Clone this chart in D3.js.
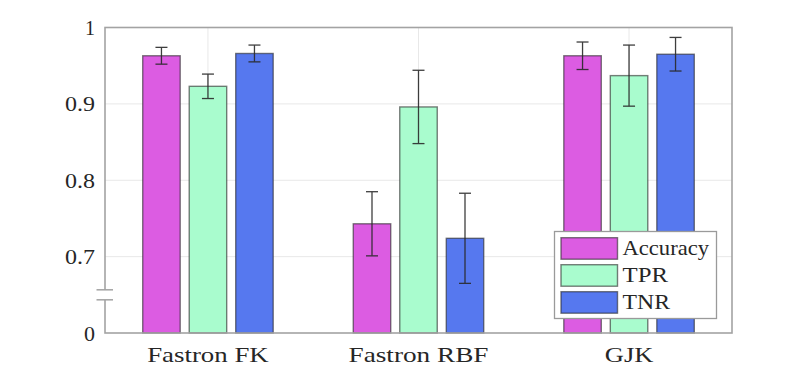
<!DOCTYPE html>
<html>
<head>
<meta charset="utf-8">
<script src="https://cdn.jsdelivr.net/npm/d3@7"></script>
<style>
  html, body { margin: 0; padding: 0; background: #fff; }
  svg { display: block; }
</style>
</head>
<body>
<svg id="chart" width="810" height="375"></svg>
<script>
// ---- data ----
const categories = ["Fastron FK", "Fastron RBF", "GJK"];
const seriesNames = ["Accuracy", "TPR", "TNR"];
const accuracy    = [0.963, 0.743, 0.963];
const accuracyErr = [0.011, 0.042, 0.018];
const tpr         = [0.923, 0.896, 0.937];
const tprErr      = [0.016, 0.048, 0.040];
const tnr         = [0.966, 0.724, 0.965];
const tnrErr      = [0.011, 0.059, 0.022];
const yTickValues = [0.6, 0.7, 0.8, 0.9, 1.0];
const yTickLabels = ["0", "0.7", "0.8", "0.9", "1"];

const values = [accuracy, tpr, tnr];
const errors = [accuracyErr, tprErr, tnrErr];
const colors = ["#dc5ce2", "#a9fcce", "#5678ef"];

// pick an installed serif font
function pickFont(cands) {
  const c = document.createElement("canvas").getContext("2d");
  const s = "Fastron RBF Accuracy 0.9 mwiWMl";
  const base = {};
  ["monospace", "sans-serif"].forEach(b => { c.font = "40px " + b; base[b] = c.measureText(s).width; });
  for (const f of cands) {
    for (const b of ["monospace", "sans-serif"]) {
      c.font = `40px "${f}", ${b}`;
      if (Math.abs(c.measureText(s).width - base[b]) > 0.5) return `"${f}"`;
    }
  }
  return "serif";
}
const FONT = pickFont(["Liberation Serif", "DejaVu Serif", "Noto Serif", "Tinos", "Times New Roman", "Times", "FreeSerif", "Nimbus Roman", "Nimbus Roman No9 L", "Latin Modern Roman", "CMU Serif", "Georgia"]) + ", serif";

// ---- layout ----
const L = 105, R = 732, T = 27.5, B = 333;
const svg = d3.select("#chart");

const x = d3.scalePoint().domain(categories).range([L, R]).padding(0.489);
const xs = d3.scaleBand().domain(seriesNames).range([-69.75, 69.75])
  .paddingInner(0.194).paddingOuter(0.097);
const y = d3.scaleLinear().domain([0.6, 1.0]).range([B, T]);

// grid
const grid = svg.append("g");
grid.selectAll("line.h").data(yTickValues.filter(v => v > 0.6 && v < 1))
  .join("line")
  .attr("x1", L).attr("x2", R)
  .attr("y1", d => y(d)).attr("y2", d => y(d))
  .attr("stroke", "#e8e8e8").attr("stroke-width", 1);
grid.selectAll("line.v").data(categories)
  .join("line")
  .attr("x1", d => x(d)).attr("x2", d => x(d))
  .attr("y1", T).attr("y2", B)
  .attr("stroke", "#e8e8e8").attr("stroke-width", 1);

// bars
seriesNames.forEach((s, si) => {
  const g = svg.append("g");
  g.selectAll("rect").data(categories)
    .join("rect")
    .attr("x", (d) => x(d) + xs(s))
    .attr("y", (d, i) => y(values[si][i]))
    .attr("width", xs.bandwidth())
    .attr("height", (d, i) => B - y(values[si][i]))
    .attr("fill", colors[si])
    .attr("stroke", "rgba(40,40,40,0.6)")
    .attr("stroke-width", 1.4);
});

// error bars
seriesNames.forEach((s, si) => {
  const g = svg.append("g").attr("stroke", "#2a2a2a").attr("stroke-width", 1.3).attr("opacity", 0.9);
  categories.forEach((c, i) => {
    const cx = x(c) + xs(s) + xs.bandwidth() / 2;
    const v = values[si][i], e = errors[si][i];
    g.append("line").attr("x1", cx).attr("x2", cx).attr("y1", y(v + e)).attr("y2", y(v - e));
    g.append("line").attr("x1", cx - 6).attr("x2", cx + 6).attr("y1", y(v + e)).attr("y2", y(v + e));
    g.append("line").attr("x1", cx - 6).attr("x2", cx + 6).attr("y1", y(v - e)).attr("y2", y(v - e));
  });
});

// frame
svg.append("rect").attr("x", L).attr("y", T).attr("width", R - L).attr("height", B - T)
  .attr("fill", "none").attr("stroke", "#a3a3a3").attr("stroke-width", 1.6);

// axis break
const yb = y(0.65);
svg.append("rect").attr("x", L - 3).attr("y", yb - 5).attr("width", 6).attr("height", 10).attr("fill", "#fff");
[yb - 5, yb + 5].forEach(yy => {
  svg.append("line").attr("x1", L - 8.5).attr("x2", L + 8).attr("y1", yy).attr("y2", yy)
    .attr("stroke", "#a3a3a3").attr("stroke-width", 1.5);
});

// y tick labels
const yLabelWidths = { "0": 11, "0.7": 30, "0.8": 30, "0.9": 30, "1": 10 };
svg.append("g").selectAll("text").data(yTickValues)
  .join("text")
  .attr("x", 95).attr("y", d => y(d) + 7.5)
  .attr("text-anchor", "end")
  .style("font-family", FONT)
  .attr("fill", "#262626")
  .attr("font-size", 22)
  .attr("textLength", (d, i) => yLabelWidths[yTickLabels[i]])
  .attr("lengthAdjust", "spacingAndGlyphs")
  .text((d, i) => yTickLabels[i]);

// x labels
const xLabelWidths = [121.5, 140, 48.5];
svg.append("g").selectAll("text").data(categories)
  .join("text")
  .attr("x", (d, i) => x(d) - xLabelWidths[i] / 2)
  .attr("y", 361.5)
  .style("font-family", FONT)
  .attr("fill", "#262626")
  .attr("font-size", 22)
  .attr("textLength", (d, i) => xLabelWidths[i])
  .attr("lengthAdjust", "spacingAndGlyphs")
  .text(d => d);

// legend
const lg = svg.append("g");
lg.append("rect").attr("x", 554.5).attr("y", 231.5).attr("width", 162).attr("height", 87)
  .attr("fill", "#fff").attr("stroke", "#9a9a9a").attr("stroke-width", 1.3);
const legendWidths = [86.5, 45.5, 47.5];
seriesNames.forEach((s, si) => {
  const yy = 237.7 + si * 27;
  lg.append("rect").attr("x", 561).attr("y", yy).attr("width", 56.5).attr("height", 21.5)
    .attr("fill", colors[si]).attr("stroke", "rgba(40,40,40,0.6)").attr("stroke-width", 1.4);
  lg.append("text").attr("x", 622.5).attr("y", yy + 17.5)
    .style("font-family", FONT)
    .attr("fill", "#262626")
    .attr("font-size", 22)
    .attr("textLength", legendWidths[si])
    .attr("lengthAdjust", "spacingAndGlyphs")
    .text(s);
});
</script>
</body>
</html>
